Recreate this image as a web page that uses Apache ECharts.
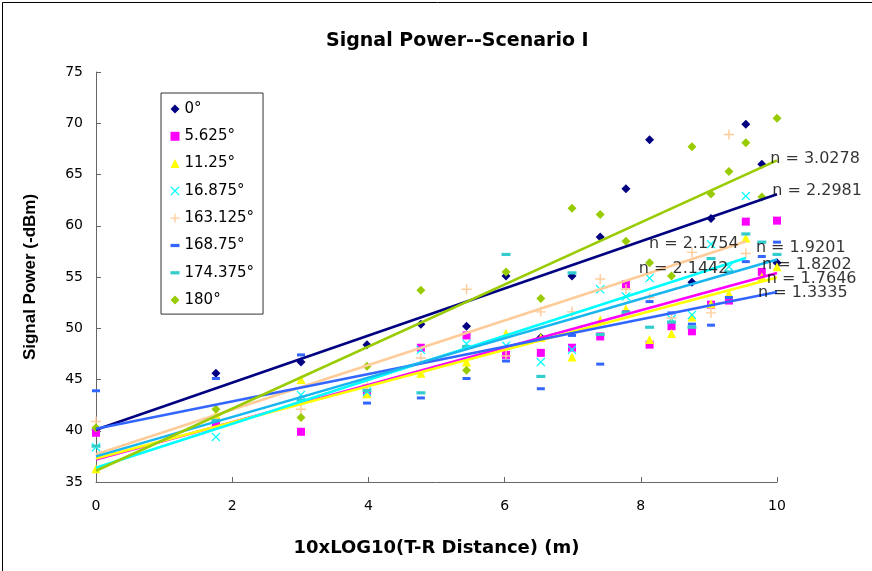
<!DOCTYPE html>
<html><head><meta charset="utf-8">
<script src="https://cdn.jsdelivr.net/npm/echarts@6/dist/echarts.min.js"></script>
<style>html,body{margin:0;padding:0;background:#fff}#c{width:872px;height:571px}</style>
</head><body><div id="c"></div>
<script>
// x positions: 10*log10(distance)
const xValues = [0, 1.761, 3.010, 3.979, 4.771, 5.441, 6.021, 6.532, 6.990, 7.404, 7.782, 8.129, 8.451, 8.751, 9.031, 9.294, 9.542, 9.777, 10];
const seriesNames = ['0°', '5.625°', '11.25°', '16.875°', '163.125°', '168.75°', '174.375°', '180°'];
const deg0      = [40.1, 45.6, 46.7, 48.4, 50.4, 50.2, 55.1, 49.1, 55.1, 58.9, 63.6, 68.4, null, 54.5, 60.7, null, 69.9, 66.0, 56.4];
const deg5625   = [39.8, 40.8, 39.9, 43.7, 48.1, 49.3, 47.4, 47.6, 48.1, 49.2, 54.3, 48.4, 50.2, 49.7, 52.3, 52.7, 60.4, 55.5, 60.5];
const deg1125   = [36.3, 41.6, 45.0, 43.6, 45.6, 46.7, 49.5, 49.1, 47.2, 50.8, 51.9, 48.9, 49.5, 51.1, 52.4, 53.4, 58.8, 55.0, 56.0];
const deg16875  = [38.4, 39.4, 43.5, 43.8, 47.9, 48.5, 48.3, 46.7, 47.9, 53.8, 53.1, 54.9, 50.9, 51.3, 58.2, 56.0, 62.9, null, null];
const deg163125 = [40.9, 41.5, 42.1, 44.5, 47.1, 53.8, 47.3, 51.6, 51.6, 54.8, 53.8, 53.0, 51.0, 57.4, 51.5, 68.9, 57.3, null, null];
const deg16875b = [43.9, 45.1, 47.4, 42.7, 43.2, 45.1, 46.8, 44.1, 49.3, 46.5, 51.6, 52.6, 51.5, 50.4, 50.3, 53.0, 56.5, 57.0, 58.4];
const deg174375 = [38.5, 41.0, 43.0, 43.9, 43.7, 48.2, 57.2, 45.3, 55.4, 49.4, 51.5, 50.1, 50.6, 50.1, 56.8, 55.5, 59.2, 58.4, 57.2];
const deg180    = [40.3, 42.1, 41.3, 46.3, 53.7, 45.9, 55.5, 52.9, 61.7, 61.1, 58.5, 56.4, 55.1, 67.7, 63.1, 65.3, 68.1, 62.8, 70.5];
const allValues = [deg0, deg5625, deg1125, deg16875, deg163125, deg16875b, deg174375, deg180];

// trendlines: y = intercept + n * x
const trendIntercepts = [40.1, 37.2, 37.3, 36.4, 37.7, 40.2, 37.5, 36.1];
const trendSlopes     = [2.2981, 1.8202, 1.7646, 2.1442, 2.1754, 1.3335, 1.9201, 3.0278];
const trendEndX       = [10, 10, 10, 9.542, 9.542, 10, 10, 10];
// where the "n = ..." labels sit, in data units (left edge, middle)
const labelAnchors = [[9.93, 63.42], [9.78, 56.19], [9.85, 54.82], [7.97, 55.8], [8.12, 58.24], [9.72, 53.46], [9.69, 57.85], [9.90, 66.54]];

const yTicks = {min: 35, max: 75, interval: 5};
const xTicks = {min: 0, max: 10, interval: 2};

const markerColors = ['#000080', '#FF00FF', '#FFFF00', '#00FFFF', '#FFCC99', '#3366FF', '#33CCCC', '#99CC00'];
const lineColors   = ['#000080', '#FF00FF', '#FFFF00', '#00FFFF', '#FFCC99', '#3366FF', '#19B5EE', '#99CC00'];
const xPath = 'path://M0,1L1,0L5,4L9,0L10,1L6,5L10,9L9,10L5,6L1,10L0,9L4,5Z';
const plusPath = 'path://M4.3,0h1.4v4.3h4.3v1.4h-4.3v4.3h-1.4v-4.3h-4.3v-1.4h4.3z';
const dashPath = 'path://M0,0h10v3.6h-10z';
const symbols = ['diamond', 'rect', 'triangle', xPath, plusPath, dashPath, dashPath, 'diamond'];
const symbolSizes = [9, 8, 9, 9, 10, [8, 3], [9, 3.2], 9];

const series = [];
allValues.forEach((vals, i) => {
  const data = [];
  vals.forEach((v, j) => { if (v !== null) data.push([xValues[j], v]); });
  series.push({
    name: seriesNames[i], type: 'scatter', data: data, symbol: symbols[i], symbolSize: symbolSizes[i],
    itemStyle: {color: markerColors[i], opacity: 1}, clip: false, z: 2
  });
});
trendSlopes.forEach((n, i) => {
  const b = trendIntercepts[i], xe = trendEndX[i];
  series.push({
    name: 'trend' + i, type: 'line', data: [[0, b], [xe, b + n * xe]], symbol: 'none', silent: true,
    lineStyle: {color: lineColors[i], width: 2.6}, clip: false, z: 3
  });
});
series.push({
  name: 'nlabels', type: 'scatter', symbolSize: 0, silent: true, clip: false, z: 5,
  data: labelAnchors.map((p, i) => ({value: p, label: {formatter: 'n = ' + trendSlopes[i].toFixed(4)}})),
  label: {show: true, position: 'right', distance: 0, color: '#000', fontSize: 16, fontFamily: 'DejaVu Sans'}
});

const chart = echarts.init(document.getElementById('c'), null, {renderer: 'canvas'});
chart.setOption({
  animation: false,
  backgroundColor: '#fff',
  title: {
    text: 'Signal Power--Scenario I', left: 321, top: 27,
    textStyle: {fontFamily: 'DejaVu Sans', fontWeight: 'bold', fontSize: 19, color: '#000'}
  },
  legend: {
    data: seriesNames, orient: 'vertical', left: 161, top: 93,
    padding: [8.5, 9, 6.5, 9.5], itemGap: 12.3, itemWidth: 9, itemHeight: 9, symbolKeepAspect: true,
    borderColor: '#333', borderWidth: 1, backgroundColor: '#fff',
    textStyle: {fontFamily: 'DejaVu Sans', fontSize: 15, color: '#000', lineHeight: 15}
  },
  grid: {left: 96, right: 95, top: 72, bottom: 89},
  xAxis: {
    type: 'value', min: xTicks.min, max: xTicks.max, interval: xTicks.interval,
    name: '10xLOG10(T-R Distance) (m)', nameLocation: 'middle', nameGap: 57,
    nameTextStyle: {fontFamily: 'DejaVu Sans', fontWeight: 'bold', fontSize: 18, color: '#000'},
    axisLine: {lineStyle: {color: '#666', width: 1}},
    axisTick: {inside: true, length: 5, lineStyle: {color: '#666'}},
    axisLabel: {margin: 17, fontFamily: 'DejaVu Sans', fontSize: 14, color: '#000'},
    splitLine: {show: false}
  },
  yAxis: {
    type: 'value', min: yTicks.min, max: yTicks.max, interval: yTicks.interval,
    name: 'Signal Power (-dBm)', nameLocation: 'middle', nameGap: 57,
    nameTextStyle: {fontFamily: 'Liberation Sans, Arial', fontWeight: 'bold', fontSize: 17, color: '#000'},
    axisLine: {show: true, lineStyle: {color: '#666', width: 1}},
    axisTick: {show: true, inside: true, length: 5, lineStyle: {color: '#666'}},
    axisLabel: {margin: 13, fontFamily: 'DejaVu Sans', fontSize: 14, color: '#000'},
    splitLine: {show: false}
  },
  graphic: [{
    type: 'rect', left: 0, top: 0, silent: true,
    shape: {x: 0.5, y: 0.5, width: 870, height: 569},
    style: {fill: 'none', stroke: '#000', lineWidth: 1}
  }],
  series: series
});
</script></body></html>
